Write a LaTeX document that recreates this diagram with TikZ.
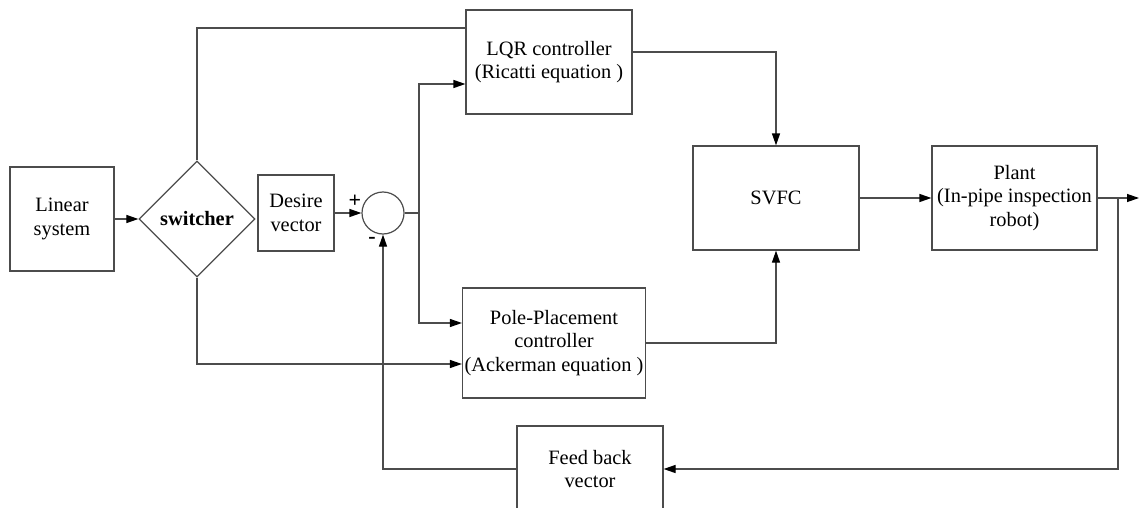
\documentclass[tikz,border=0pt]{standalone}
\usepackage{fontspec}
\setmainfont{Liberation Serif}
\usetikzlibrary{arrows.meta,positioning,shapes.geometric,calc}

\tikzset{
  block/.style={draw=black!70, line width=0.6pt, align=center, inner sep=1pt},
  wire/.style={draw=black!70, line width=0.6pt},
  sign/.style={font=\bfseries\fontsize{11}{12}\selectfont, inner sep=0pt}
}

\begin{document}
\begin{tikzpicture}[x=0.5pt, y=-0.5pt, >={Triangle[length=6pt,width=4pt,color=black]},
  font=\fontsize{10.2}{11.8}\selectfont]
  \clip (0,0) rectangle (1139,508);
  % blocks
  \node[block, minimum width=52pt, minimum height=52pt] (lin) at (62,219) {Linear\\system};
  \node[block, diamond, aspect=1, minimum width=58pt, minimum height=58pt, inner sep=0pt] (sw) at (197,219) {\textbf{switcher}};
  \node[block, minimum width=38pt, minimum height=38pt] (des) at (296,213) {Desire\\vector};
  \node[block, circle, minimum size=21pt, inner sep=0pt] (sum) at (383,213) {};
  \node[block, minimum width=83pt, minimum height=52pt] (lqr) at (549,62) {LQR controller\\(Ricatti equation )};
  \node[block, minimum width=88pt, minimum height=55pt] (pp) at (554,343) {Pole-Placement\\controller\\(Ackerman equation )};
  \node[block, minimum width=83pt, minimum height=52pt] (svfc) at (776,198) {SVFC};
  \node[block, minimum width=82.5pt, minimum height=52pt] (plant) at (1014.5,198) {Plant\\(In-pipe inspection\\robot)};
  \node[block, minimum width=73pt, minimum height=43pt] (fb) at (590,469) {Feed back\\vector};
  % signs
  \node[sign] (plus) at (355,201) {+};
  \node[sign] (minus) at (372,240) {-};
  % branch points
  \coordinate (br) at (419,213);
  \coordinate (tap) at (1118,198);
  \coordinate (out) at (1139,198);
  % connectors
  \draw[wire,->] (lin) -- (sw);
  \draw[wire,->] (des) -- (sum);
  \draw[wire] (sw.north) |- ([yshift=17pt]lqr.west);
  \draw[wire,->] (sw.south) |- ([yshift=-10.5pt]pp.west);
  \draw[wire] (sum.east) -- (br);
  \draw[wire,->] (br) |- ([yshift=-11pt]lqr.west);
  \draw[wire,->] (br) |- ([yshift=10pt]pp.west);
  \draw[wire,->] ([yshift=5pt]lqr.east) -| (svfc.north);
  \draw[wire,->] (pp.east) -| (svfc.south);
  \draw[wire,->] (svfc) -- (plant);
  \draw[wire,->] (plant.east) -- (out);
  \draw[wire,->] (tap) |- (fb.east);
  \draw[wire,->] (fb.west) -| (sum.south);
\end{tikzpicture}
\end{document}
